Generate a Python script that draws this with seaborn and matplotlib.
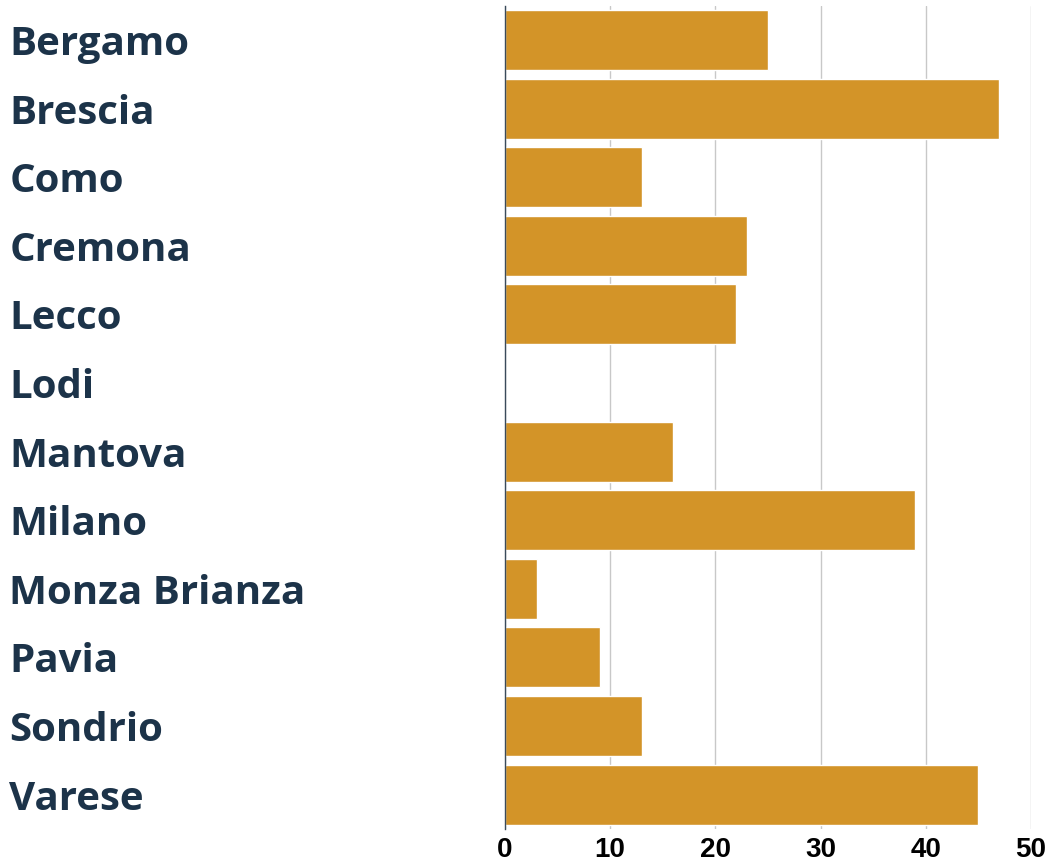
import matplotlib
matplotlib.use("Agg")
import matplotlib.pyplot as plt
import seaborn as sns
import pandas as pd

# Province values
provinces = ["Bergamo", "Brescia", "Como", "Cremona", "Lecco", "Lodi", "Mantova",
             "Milano", "Monza Brianza", "Pavia", "Sondrio", "Varese"]
values = [25, 47, 13, 23, 22, 0, 16, 39, 3, 9, 13, 45]
x_ticks = [0, 10, 20, 30, 40, 50]

df = pd.DataFrame({"provincia": provinces, "valore": values})

sns.set_style("white")
fig = plt.figure(figsize=(10.52, 8.68), dpi=100)
ax = fig.add_axes([0.48, 0.045, 0.5, 0.9485])

sns.barplot(data=df, x="valore", y="provincia", color="#D39428", saturation=1,
            width=0.875, ax=ax)

ax.set_xlim(0, 50)
ax.set_xticks(x_ticks)
ax.xaxis.grid(True, color="#c8c8c8", linewidth=1)
ax.set_axisbelow(True)
for s in ["top", "right", "bottom"]:
    ax.spines[s].set_visible(False)
ax.spines["left"].set_color("#3a4a5a")
ax.spines["left"].set_linewidth(1)
ax.set_xlabel("")
ax.set_ylabel("")

ax.tick_params(axis="x", length=0, pad=6, labelsize=20)
for lbl in ax.get_xticklabels():
    lbl.set_fontweight("bold")
    lbl.set_fontfamily("Liberation Sans")
    lbl.set_color("black")

ax.tick_params(axis="y", length=0, pad=357, labelsize=29)
for lbl in ax.get_yticklabels():
    lbl.set_ha("left")
    lbl.set_fontweight("bold")
    lbl.set_fontfamily("Open Sans")
    lbl.set_color("#1c3349")

fig.savefig("out.png", dpi=100)
